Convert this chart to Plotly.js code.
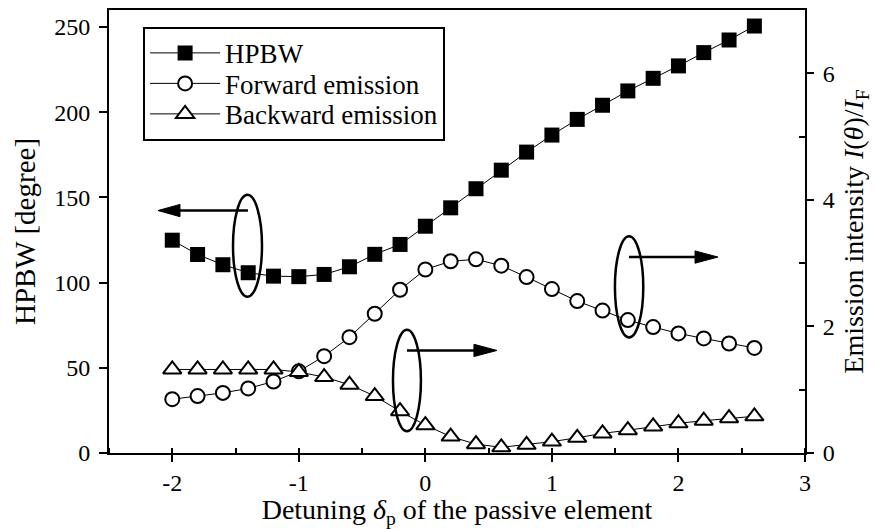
<!DOCTYPE html>
<html>
<head>
<meta charset="utf-8">
<script src="https://cdn.plot.ly/plotly-3.0.1.min.js"></script>
<style>
  html, body { margin: 0; padding: 0; background: #fff; }
  #chart { width: 875px; height: 529px; }
</style>
</head>
<body>
<div id="chart"></div>
<script>
// Detuning of the passive element
const detuning = [-2, -1.8, -1.6, -1.4, -1.2, -1, -0.8, -0.6, -0.4, -0.2, 0,
                  0.2, 0.4, 0.6, 0.8, 1, 1.2, 1.4, 1.6, 1.8, 2, 2.2, 2.4, 2.6];

// Half-power beam width [degree] (left axis)
const hpbw = [124.9, 116.5, 110.5, 105.8, 103.8, 103.5, 104.8, 109.3, 116.6, 122.4, 133.1,
              143.9, 155.1, 166.0, 176.6, 186.6, 195.8, 204.1, 212.5, 219.9, 227.2, 235.0, 242.4, 250.6];

// Emission intensity I(theta)/I_F (right axis)
const forward = [0.85, 0.90, 0.95, 1.02, 1.13, 1.29, 1.53, 1.83, 2.20, 2.58, 2.90,
                 3.03, 3.06, 2.96, 2.78, 2.59, 2.40, 2.25, 2.10, 1.99, 1.89, 1.81, 1.73, 1.66];
const backward = [1.32, 1.32, 1.32, 1.32, 1.32, 1.28, 1.20, 1.08, 0.90, 0.66, 0.44,
                  0.26, 0.14, 0.09, 0.13, 0.18, 0.24, 0.31, 0.36, 0.42, 0.47, 0.51, 0.55, 0.58];

const xTickVals = [-2, -1, 0, 1, 2, 3];
const xTickText = ['-2', '-1', '0', '1', '2', '3'];

const FONT = 'Liberation Serif, Times New Roman, serif';
const INK = '#000';

const traces = [
  {
    x: detuning, y: hpbw, name: 'HPBW', yaxis: 'y',
    mode: 'lines+markers', type: 'scatter',
    line: { color: INK, width: 1 },
    marker: { symbol: 'square', size: 15, color: INK, line: { color: INK, width: 0 } }
  },
  {
    x: detuning, y: forward, name: 'Forward emission', yaxis: 'y2',
    mode: 'lines+markers', type: 'scatter',
    line: { color: INK, width: 1 },
    marker: { symbol: 'circle', size: 14, color: '#fff', line: { color: INK, width: 2 } }
  },
  {
    x: detuning, y: backward, name: 'Backward emission', yaxis: 'y2',
    mode: 'lines+markers', type: 'scatter',
    line: { color: INK, width: 1 },
    marker: { symbol: 'triangle-up', size: 16, color: '#fff', line: { color: INK, width: 2 } }
  }
];

// Guide ellipses and arrows pointing to the axis each curve belongs to
function ellipse(x0, x1, y0, y1) {
  return { type: 'circle', xref: 'x', yref: 'y', x0, x1, y0, y1,
           line: { color: INK, width: 2.5 }, fillcolor: 'rgba(0,0,0,0)' };
}
function arrow(xs, xb, xt, y, hh) {
  return [
    { type: 'line', xref: 'x', yref: 'y', x0: xs, x1: xb, y0: y, y1: y,
      line: { color: INK, width: 2.5 } },
    { type: 'path', xref: 'x', yref: 'y',
      path: `M${xt},${y} L${xb},${y + hh} L${xb},${y - hh} Z`,
      fillcolor: INK, line: { color: INK, width: 1 } }
  ];
}

const shapes = [
  ellipse(-1.520, -1.291, 91.7, 151.5),
  ellipse(-0.256, -0.035, 12.7, 72.3),
  ellipse(1.498, 1.722, 67.8, 127.2),
  ...arrow(-1.402, -1.939, -2.113, 142.3, 3.6),
  ...arrow(-0.145, 0.384, 0.566, 60.2, 3.6),
  ...arrow(1.609, 2.131, 2.312, 115.0, 3.6)
];

const layout = {
  width: 875, height: 529,
  margin: { l: 109, r: 70, t: 10, b: 76 },
  paper_bgcolor: '#fff', plot_bgcolor: '#fff',
  font: { family: FONT, color: INK, size: 24 },
  showlegend: true,
  legend: {
    x: 0.049, y: 0.962, xanchor: 'left', yanchor: 'top',
    bordercolor: INK, borderwidth: 2, bgcolor: '#fff',
    font: { family: FONT, size: 27, color: INK },
    itemwidth: 70
  },
  xaxis: {
    range: [-2.5, 3], tickvals: xTickVals, ticktext: xTickText,
    showgrid: false, zeroline: false,
    showline: true, linecolor: INK, linewidth: 2, mirror: true,
    ticks: 'outside', ticklen: 7, tickwidth: 2, tickcolor: INK,
    tickfont: { family: FONT, size: 24, color: INK },
    minor: { dtick: 0.5, tick0: -2.5, ticks: 'inside', ticklen: 5, tickwidth: 2, tickcolor: INK, showgrid: false },
    title: { text: 'Detuning <i>δ</i><sub>p</sub> of the passive element',
             font: { family: FONT, size: 28, color: INK }, standoff: 9 }
  },
  yaxis: {
    range: [0, 260], tickvals: [0, 50, 100, 150, 200, 250],
    showgrid: false, zeroline: false,
    showline: true, linecolor: INK, linewidth: 2,
    ticks: 'outside', ticklen: 8, tickwidth: 2, tickcolor: INK,
    tickfont: { family: FONT, size: 24, color: INK },
    ticklabelstandoff: 4,
    title: { text: 'HPBW [degree]', font: { family: FONT, size: 29, color: INK }, standoff: 10 }
  },
  yaxis2: {
    range: [0, 7], tickvals: [0, 2, 4, 6], overlaying: 'y', side: 'right',
    showgrid: false, zeroline: false,
    showline: true, linecolor: INK, linewidth: 2,
    ticks: 'outside', ticklen: 7, tickwidth: 2, tickcolor: INK,
    tickfont: { family: FONT, size: 24, color: INK },
    ticklabelstandoff: 4,
    minor: { tickvals: [1, 3, 5], ticks: 'inside', ticklen: 6, tickwidth: 2, tickcolor: INK, showgrid: false },
    title: { text: 'Emission intensity <i>I</i>(<i>θ</i>)/<i>I</i><sub>F</sub>',
             font: { family: FONT, size: 28, color: INK }, standoff: 10 }
  },
  shapes: shapes
};

// Tighten the legend rows to a fixed pitch and shrink its frame to fit
function tightenLegend(gd, pitch) {
  const items = Array.from(gd.querySelectorAll('.legend .traces'));
  if (items.length < 2) return;
  const pos = items.map(el => {
    const m = /translate\(\s*([-\d.]+)[ ,]+([-\d.]+)\s*\)/.exec(el.getAttribute('transform') || '');
    return m ? [parseFloat(m[1]), parseFloat(m[2])] : [0, 0];
  });
  const oldPitch = pos[1][1] - pos[0][1];
  items.forEach((el, i) => {
    el.setAttribute('transform', `translate(${pos[i][0]},${pos[0][1] + i * pitch})`);
  });
  const shrink = (oldPitch - pitch) * (items.length - 1);
  gd.querySelectorAll('.legend rect.bg').forEach(r => {
    const h = parseFloat(r.getAttribute('height'));
    if (!isNaN(h)) r.setAttribute('height', h - shrink);
  });
}

Plotly.newPlot('chart', traces, layout, { staticPlot: true, displayModeBar: false })
  .then(gd => tightenLegend(gd, 30.5));
</script>
</body>
</html>
